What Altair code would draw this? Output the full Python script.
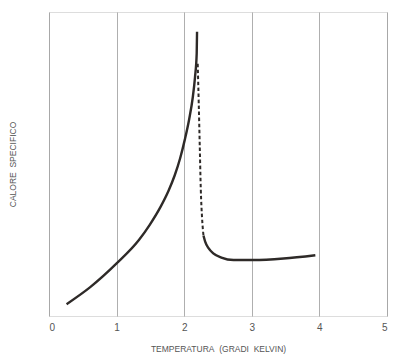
import altair as alt
import pandas as pd

# Left branch (superfluid), solid
left_x = [0.26, 0.61, 1.0, 1.33, 1.49, 1.65, 1.77, 1.86, 1.94, 2.01, 2.075, 2.126, 2.16, 2.185, 2.19]
left_y = [3.9, 9.5, 17.3, 25.0, 30.0, 35.9, 41.3, 46.3, 51.9, 58.1, 64.9, 71.8, 78.6, 86.4, 93.5]
# Dashed drop after lambda point
dash_x = [2.20, 2.215, 2.23, 2.245, 2.265, 2.285]
dash_y = [83.0, 70.0, 56.0, 42.0, 32.0, 26.5]
# Right branch (normal liquid), solid
right_x = [2.285, 2.31, 2.36, 2.43, 2.55, 2.73, 3.03, 3.47, 3.94]
right_y = [26.5, 24.5, 22.3, 20.6, 19.2, 18.4, 18.4, 18.9, 20.0]

x_ticks = [0, 1, 2, 3, 4, 5]

df_left = pd.DataFrame({"t": left_x, "c": left_y})
df_dash = pd.DataFrame({"t": dash_x, "c": dash_y})
df_right = pd.DataFrame({"t": right_x, "c": right_y})

NB = "\u00a0"
xenc = alt.X(
    "t:Q",
    scale=alt.Scale(domain=[0, 5], nice=False, zero=False),
    axis=alt.Axis(
        values=x_ticks,
        format="d",
        title=f"TEMPERATURA{NB}{NB}(GRADI{NB}{NB}KELVIN)",
        ticks=False,
        domain=False,
        grid=True,
        gridColor="#9a9a9a",
        gridWidth=0.8,
        labelPadding=6,
        labelFontSize=10,
        labelColor="#555555",
        labelFont="Liberation Sans",
        titleFont="Liberation Sans",
        titleFontSize=8.5,
        titleFontWeight="normal",
        titleColor="#555555",
        titlePadding=12,
    ),
)
yenc = alt.Y(
    "c:Q",
    scale=alt.Scale(domain=[0, 100], nice=False),
    axis=alt.Axis(
        labels=False,
        ticks=False,
        domain=False,
        grid=False,
        title=f"CALORE{NB}{NB}SPECIFICO",
        titleFont="Liberation Sans",
        titleFontSize=8.5,
        titleFontWeight="normal",
        titleColor="#555555",
        titlePadding=32,
    ),
)

line_color = "#2e2a28"
l1 = alt.Chart(df_left).mark_line(color=line_color, strokeWidth=2.4, interpolate="monotone").encode(x=xenc, y=yenc)
l2 = alt.Chart(df_dash).mark_line(color=line_color, strokeWidth=2, strokeDash=[3.5, 2.5], interpolate="monotone").encode(x=xenc, y=yenc)
l3 = alt.Chart(df_right).mark_line(color=line_color, strokeWidth=2.4, interpolate="monotone").encode(x=xenc, y=yenc)

chart = (
    alt.layer(l1, l2, l3)
    .properties(width=338, height=304, padding={"left": 0, "top": 4, "right": 5, "bottom": 5})
    .configure_view(stroke="#555555", strokeWidth=1.2)
    .configure(background="white")
)

chart.save("out.html", embed_options={"renderer": "svg", "actions": False})
